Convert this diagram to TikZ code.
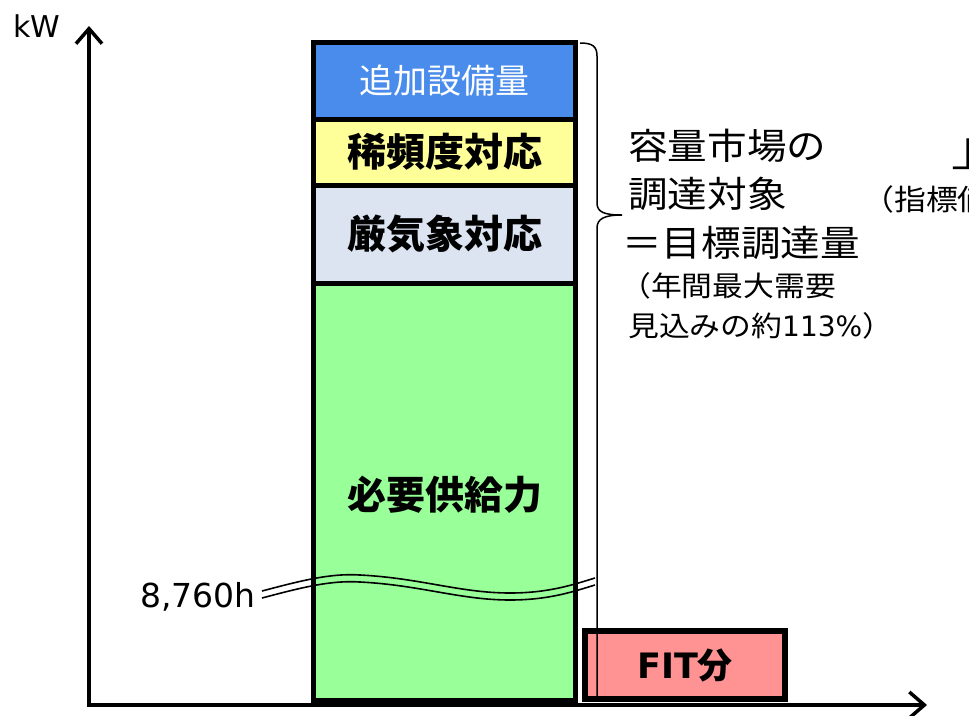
\documentclass[tikz,border=0pt]{standalone}
\usepackage{fontspec}
\setmainfont{DejaVu Sans}
\newfontfamily\jp{Noto Sans CJK JP}
\newfontfamily\jpwide[FakeStretch=1.1]{Noto Sans CJK JP}
\usetikzlibrary{arrows.meta,positioning}
\definecolor{addblue}{HTML}{4A8CEB}
\definecolor{rareyellow}{HTML}{FFFF99}
\definecolor{severegray}{HTML}{DCE4F2}
\definecolor{needgreen}{HTML}{99FF99}
\definecolor{fitpink}{HTML}{FF9393}
\tikzset{
>={Straight Barb[length=15pt,width=26pt]}, % open arrow heads of the axes
axis/.style={line width=3.5pt, ->},
seg/.style={draw, line width=5pt, minimum width=262pt, inner sep=0pt, outer sep=0pt}, % one part of the column
boldjp/.style={font=\jp\bfseries\fontsize{39}{44}\selectfont},
note/.style={anchor=west, inner sep=0pt, font=\jpwide\fontsize{36}{42}\selectfont},
smallnote/.style={anchor=west, inner sep=0pt, font=\fontsize{28}{32}\selectfont},
node distance=0pt,
}
\begin{document}
\begin{tikzpicture}[x=1pt,y=-1pt]
\useasboundingbox (0,0) rectangle (969,715);
\clip (0,0) rectangle (969,715);
\coordinate (O) at (89,707);
\coordinate (ytop) at (89,26);
\coordinate (xstart) at (87,705);
\coordinate (xend) at (927,705);
% the column
\node[seg, fill=addblue, minimum height=76.5pt, anchor=north, text=white,
  font=\jp\fontsize{34}{40}\selectfont] (add) at (444.5,42.5) {追加設備量};
\node[seg, fill=rareyellow, minimum height=66pt, below=of add, boldjp] (rare) {稀頻度対応};
\node[seg, fill=severegray, minimum height=98pt, below=of rare, boldjp] (severe) {厳気象対応};
\node[seg, fill=needgreen, minimum height=417pt, below=of severe] (need) {};
\node[boldjp] (needtext) at (445,495) {必要供給力};
% FIT part
\node[draw, line width=6pt, fill=fitpink, minimum width=200pt, minimum height=68pt,
  inner sep=0pt, font=\bfseries\fontsize{35}{40}\selectfont] (fit) at (685,665) {FIT{\jp 分}};
% break of the time axis
\foreach \d in {0,7}
  \draw[line width=1.6pt, yshift=-\d pt] (262,591) .. controls (300,581) and (330,573) .. (360,575)
    .. controls (420,578) and (460,593) .. (510,593) .. controls (550,593) and (575,584) .. (595,578);
\node[anchor=east, inner sep=0pt, font=\fontsize{33}{37}\selectfont] (hours) at (256,597) {8,760h};
% brace
\draw[line width=1.5pt] (580,43) .. controls (592,43) and (597,46) .. (597,56) -- (597,203)
  .. controls (597,212) and (604,215) .. (622,215) .. controls (604,215) and (597,219) .. (597,228) -- (597,701);
% axes
\draw[axis] (O) -- (ytop);
\draw[axis] (xstart) -- (xend);
\node[inner sep=0pt, font=\fontsize{30}{34}\selectfont] (kw) at (37,26) {kW};
% notes
\node[note] (n1) at (628,146) {容量市場の};
\node[note] (n2) at (628,194) {調達対象};
\node[note] (n3) at (622,243) {＝目標調達量};
\node[smallnote] (n4) at (620,286) {\jpwide （年間最大需要};
\node[smallnote] (n5) at (628,326) {{\jpwide 見込みの約}113\%{\jpwide ）}};
\node[inner sep=0pt, font=\jp\fontsize{36}{40}\selectfont] (top) at (969,154) {上};
\node[smallnote, font=\jpwide\fontsize{29}{34}\selectfont] (idx) at (862,199) {（指標値};
\end{tikzpicture}
\end{document}
